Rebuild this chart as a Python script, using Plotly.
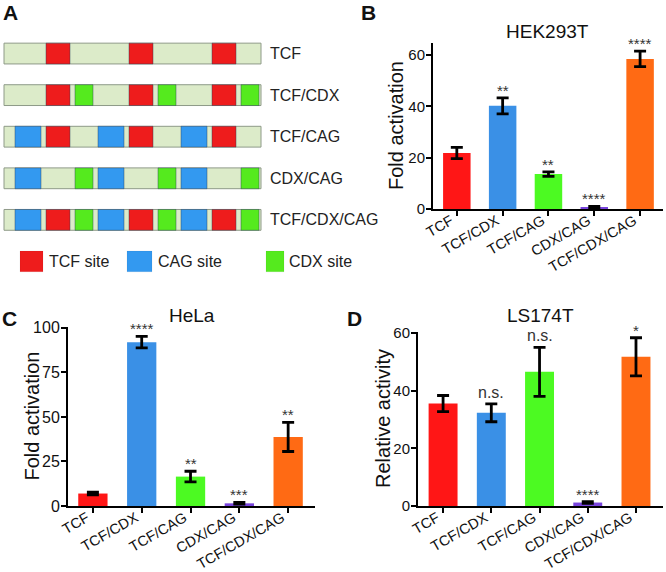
import plotly.graph_objects as go

W, H = 666, 572
FONT = "Liberation Sans, Arial, sans-serif"

# ---------------- Panel A data ----------------
constructs = ["TCF", "TCF/CDX", "TCF/CAG", "CDX/CAG", "TCF/CDX/CAG"]
construct_sites = [["TCF"], ["TCF", "CDX"], ["CAG", "TCF"], ["CAG", "CDX"], ["CAG", "TCF", "CDX"]]
n_repeats = 3
repeat_len = 83
reporter_len = 257
site_names = ["TCF", "CAG", "CDX"]
site_offsets = {"CAG": (11, 37), "TCF": (42, 66), "CDX": (71, 89)}
site_colors = {"TCF": "#EE1C1C", "CAG": "#3399F0", "CDX": "#55EA1E"}
legend_labels = ["TCF site", "CAG site", "CDX site"]
legend_pos = [16, 123, 262]
backbone_color = "#DCEBC9"

# ---------------- Panels B-D data ----------------
categories = ["TCF", "TCF/CDX", "TCF/CAG", "CDX/CAG", "TCF/CDX/CAG"]
bar_colors = ["#FF1616", "#3A90E6", "#4CFA22", "#7844DC", "#FF6A14"]

hek_vals = [21.8, 40.2, 13.6, 0.7, 58.5]
hek_err = [2.2, 3.1, 0.9, 0.3, 3.0]
hek_sig = ["", "**", "**", "****", "****"]

hela_vals = [7.0, 92.0, 16.5, 1.5, 38.8]
hela_err = [0.8, 3.2, 3.0, 0.5, 8.2]
hela_sig = ["", "****", "**", "***", "**"]

ls_vals = [35.5, 32.3, 46.5, 1.2, 51.7]
ls_err = [2.8, 3.1, 8.5, 0.3, 6.6]
ls_sig = ["", "n.s.", "n.s.", "****", "*"]


def px_x(p):
    return p / W


def px_y(p):
    return 1 - p / H


fig = go.Figure()

# ---- Panel A: reporter diagrams as horizontal bars ----
rows = list(range(len(constructs)))
fig.add_trace(go.Bar(
    y=rows, x=[reporter_len] * len(rows), base=[0] * len(rows), orientation="h",
    width=0.5, marker=dict(color=backbone_color, line=dict(color="#8E9A88", width=1)),
    xaxis="x4", yaxis="y4", showlegend=False, hoverinfo="skip"))
for s in site_names:
    ys, bases, lens = [], [], []
    for r, sites in enumerate(construct_sites):
        if s in sites:
            for k in range(n_repeats):
                a, b = site_offsets[s]
                ys.append(r)
                bases.append(k * repeat_len + a)
                lens.append(b - a)
    fig.add_trace(go.Bar(
        y=ys, x=lens, base=bases, orientation="h", width=0.5,
        marker=dict(color=site_colors[s], line=dict(color="rgba(40,60,90,0.55)", width=0.8)),
        xaxis="x4", yaxis="y4", showlegend=False, hoverinfo="skip"))
# legend squares (same widths as the sites)
for s, lab, p in zip(site_names, legend_labels, legend_pos):
    a, b = site_offsets[s]
    fig.add_trace(go.Bar(
        y=[len(constructs)], x=[b - a + (0 if s == "CDX" else -1)], base=[p], orientation="h", width=0.5,
        marker=dict(color=site_colors[s], line=dict(color="rgba(0,0,0,0.1)", width=0.5)),
        xaxis="x4", yaxis="y4", showlegend=False, hoverinfo="skip"))
    fig.add_annotation(x=p + (b - a) + 3, y=len(constructs), xref="x4", yref="y4",
                       text=lab, showarrow=False, xanchor="left", yanchor="middle",
                       font=dict(size=16, color="#222", family=FONT))
for r, c in enumerate(constructs):
    fig.add_annotation(x=reporter_len + 7, y=r, xref="x4", yref="y4", text=c,
                       showarrow=False, xanchor="left", yanchor="middle",
                       font=dict(size=16, color="#222", family=FONT))

# ---- Bar panels ----
panels = [
    dict(ax="", vals=hek_vals, err=hek_err, sig=hek_sig, title="HEK293T",
         xdom=(433, 663), ytop=43, ybot=209, yr=(0, 64.7), dtick=20,
         xr=(-0.52, 4.5), ylab="Fold activation", ylab_x=396, title_xy=(547, 32),
         tickfont=15, sigfont=15),
    dict(ax="2", vals=hela_vals, err=hela_err, sig=hela_sig, title="HeLa",
         xdom=(68, 315), ytop=327, ybot=506, yr=(0, 100.5), dtick=25,
         xr=(-0.51, 4.55), ylab="Fold activation", ylab_x=31, title_xy=(192, 316),
         tickfont=16, sigfont=15),
    dict(ax="3", vals=ls_vals, err=ls_err, sig=ls_sig, title="LS174T",
         xdom=(418, 663), ytop=332, ybot=506, yr=(0, 60.3), dtick=20,
         xr=(-0.52, 4.56), ylab="Relative activity", ylab_x=383, title_xy=(540, 316),
         tickfont=15, sigfont=15),
]

layout_axes = {}
for p in panels:
    xa = "x" + p["ax"]
    ya = "y" + p["ax"]
    fig.add_trace(go.Bar(
        x=list(range(len(categories))), y=p["vals"], width=0.6,
        marker=dict(color=bar_colors, line=dict(width=0)),
        error_y=dict(type="data", array=p["err"], visible=True, color="black",
                     thickness=2.8, width=6),
        xaxis=xa, yaxis=ya, showlegend=False))
    for i, (v, e, s) in enumerate(zip(p["vals"], p["err"], p["sig"])):
        if s:
            ns = s == "n.s."
            fig.add_annotation(x=i, y=v + e, xref=xa, yref=ya, text=s, showarrow=False,
                               xanchor="center", yanchor="bottom",
                               yshift=(1 if ns else -3),
                               font=dict(size=(16 if ns else p["sigfont"]), color="#333", family=FONT))
    layout_axes["xaxis" + p["ax"]] = dict(
        domain=[px_x(p["xdom"][0]), px_x(p["xdom"][1])], range=list(p["xr"]),
        anchor=ya, tickmode="array", tickvals=list(range(len(categories))),
        ticktext=categories, tickangle=-30, showline=True, linecolor="black",
        linewidth=2, ticks="outside", ticklen=5, tickwidth=2, tickcolor="black",
        showgrid=False, zeroline=False, fixedrange=True, automargin=False,
        ticklabelstandoff=-9, ticklabelshift=-6,
        tickfont=dict(size=14.5, color="#111", family=FONT))
    layout_axes["yaxis" + p["ax"]] = dict(
        domain=[px_y(p["ybot"]), px_y(p["ytop"])], range=list(p["yr"]),
        anchor=xa, dtick=p["dtick"], tick0=0, showline=True, linecolor="black",
        linewidth=2, ticks="outside", ticklen=5, tickwidth=2, tickcolor="black",
        showgrid=False, zeroline=False, fixedrange=True, automargin=False,
        ticklabelstandoff=-2,
        tickfont=dict(size=p["tickfont"], color="#111", family=FONT))
    fig.add_annotation(x=px_x(p["ylab_x"]), y=px_y((p["ytop"] + p["ybot"]) / 2),
                       xref="paper", yref="paper", text=p["ylab"], textangle=-90,
                       showarrow=False, xanchor="center", yanchor="middle",
                       font=dict(size=20, color="#111", family=FONT))
    fig.add_annotation(x=px_x(p["title_xy"][0]), y=px_y(p["title_xy"][1]),
                       xref="paper", yref="paper", text=p["title"], showarrow=False,
                       xanchor="center", yanchor="middle",
                       font=dict(size=19, color="#111", family=FONT))

# panel letters
for letter, (lx, ly) in zip("ABCD", [(10, 13), (368, 13), (9, 318), (354, 318)]):
    fig.add_annotation(x=px_x(lx), y=px_y(ly), xref="paper", yref="paper",
                       text="<b>%s</b>" % letter, showarrow=False,
                       xanchor="center", yanchor="middle",
                       font=dict(size=21, color="#111", family=FONT))

layout_axes["xaxis4"] = dict(domain=[0, 0.5], range=[-4, 329], visible=False,
                             anchor="y4", fixedrange=True, automargin=False)
layout_axes["yaxis4"] = dict(domain=[px_y(282.25), px_y(32.75)], range=[5.5, -0.5],
                             visible=False, anchor="x4", fixedrange=True, automargin=False)

fig.update_layout(
    template="none",
    width=W, height=H, margin=dict(l=0, r=0, t=0, b=0, pad=0),
    paper_bgcolor="white", plot_bgcolor="rgba(0,0,0,0)",
    barmode="overlay", showlegend=False, font=dict(family=FONT),
    **layout_axes)

fig.write_html(
    "out.html",
    config={"displayModeBar": False},
    post_script="document.body.style.margin='0';document.body.style.overflow='hidden';",
)
